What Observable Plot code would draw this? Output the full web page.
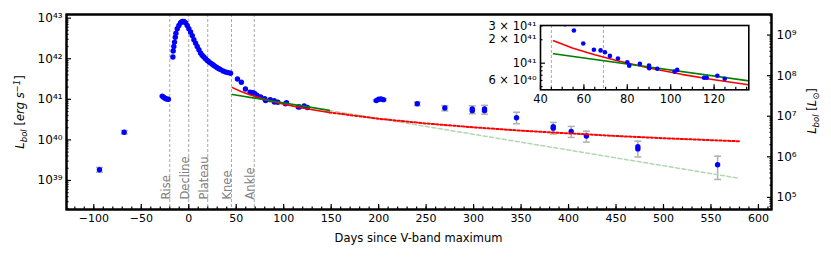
<!DOCTYPE html>
<html><head><meta charset="utf-8">
<script src="https://cdn.jsdelivr.net/npm/d3@7"></script>
<script src="https://cdn.jsdelivr.net/npm/@observablehq/plot@0.6"></script>
<style>
html,body{margin:0;padding:0;background:#fff;overflow:hidden;}
#wrap{position:relative;width:831px;height:257px;font-family:"DejaVu Sans",sans-serif;}
</style></head><body><div id="wrap"></div>
<script>
const LSUN = 3.828e33;

// Bolometric light curve (days since V max, erg/s)
const days = [-94, -68, -28, -26.5, -25, -23.5, -21.5,
  -16.7, -16.4, -15.7, -15.0, -14.2, -13.5, -12.1, -10.4, -8.6, -6.9, -5.1, -3.4, -1.6,
  0.1, 1.9, 3.7, 5.4, 7.2, 8.9, 10.7, 12.4, 14.1, 15.9, 17.7, 19.5, 21.2, 23.0, 24.8, 26.5, 28.2, 30.0, 31.8, 33.5, 36.1, 38.8, 41.4, 44.0,
  51.3, 55.4, 59.7, 64.6, 67.7, 69.7, 72.0, 75.7, 80.0, 80.9, 85.8, 90.0, 90.1, 93.8, 101.8, 103.0, 115.4, 116.6, 121.5, 124.9,
  197.5, 200, 202.5, 205, 240.7, 269.7, 298.6, 298.6, 311.5, 311.5, 345.2, 383.9, 383.9, 402.8, 418.8, 473, 473, 557];
const lum = [1.84e39, 1.55e40, 1.20e41, 1.12e41, 1.06e41, 1.02e41, 1.00e41,
  1.10e42, 1.55e42, 2.00e42, 2.57e42, 3.39e42, 4.27e42, 5.50e42, 6.60e42, 7.70e42, 8.30e42, 8.30e42, 7.70e42, 6.60e42,
  5.50e42, 4.57e42, 3.72e42, 2.95e42, 2.43e42, 2.00e42, 1.66e42, 1.38e42, 1.22e42, 1.10e42, 1.00e42, 9.10e41, 8.40e41, 7.80e41, 7.30e41, 6.80e41, 6.40e41, 6.00e41, 5.70e41, 5.40e41, 5.00e41, 4.70e41, 4.55e41, 4.40e41,
  3.18e41, 2.63e41, 1.79e41, 1.49e41, 1.46e41, 1.38e41, 1.24e41, 1.15e41, 1.03e41, 9.30e40, 9.80e40, 9.30e40, 8.60e40, 8.50e40, 7.80e40, 8.20e40, 6.50e40, 6.50e40, 6.90e40, 6.30e40,
  9.30e40, 1.00e41, 1.02e41, 9.80e40, 7.80e40, 6.10e40, 5.75e40, 5.25e40, 5.75e40, 5.25e40, 3.50e40, 2.10e40, 1.95e40, 1.62e40, 1.25e40, 6.80e39, 6.00e39, 2.44e39];

// Error bars
const errDays = [-94, -68, 197.5, 200, 202.5, 205, 240.7, 269.7, 298.6, 311.5, 345.2, 383.9, 402.8, 418.8, 473, 557];
const errLow  = [1.6e39, 1.4e40, 8.8e40, 9.5e40, 9.7e40, 9.3e40, 7.0e40, 5.2e40, 4.4e40, 4.3e40, 2.5e40, 1.4e40, 1.15e40, 8.8e39, 3.8e39, 1.06e39];
const errHigh = [2.1e39, 1.7e40, 9.8e40, 1.05e41, 1.07e41, 1.03e41, 8.6e40, 7.0e40, 6.9e40, 7.1e40, 4.8e40, 2.7e40, 2.15e40, 1.64e40, 9.3e39, 3.97e39];

// Fits
const redSolidDays = [46, 55, 65, 75, 90, 105, 120, 135, 148];
const redSolidLum  = [1.94e41, 1.56e41, 1.28e41, 1.08e41, 8.65e40, 7.19e40, 6.12e40, 5.32e40, 4.76e40];
const redDotDays = [148, 200, 250, 300, 350, 400, 450, 500, 550, 580];
const redDotLum  = [4.76e40, 3.32e40, 2.54e40, 2.04e40, 1.69e40, 1.45e40, 1.25e40, 1.10e40, 9.86e39, 9.25e39];
const greenSolidDays = [46, 148];
const greenSolidLum  = [1.32e41, 5.33e40];
const greenDashDays = [148, 580];
const greenDashLum  = [5.33e40, 1.13e39];

// Phases
const phaseDays  = [-20, 0, 20, 45, 69];
const phaseNames = ["Rise", "Decline", "Plateau", "Knee", "Ankle"];
const insetPhaseDays = [45, 69];

// Ticks
const xTicks = [-100, -50, 0, 50, 100, 150, 200, 250, 300, 350, 400, 450, 500, 550, 600];
const yExponents = [39, 40, 41, 42, 43];
const rightExponents = [5, 6, 7, 8, 9];
const insetXTicks = [40, 60, 80, 100, 120];
const insetYTicks = [6e40, 1e41, 2e41, 3e41];
const insetYLabels = ["6 × 10⁴⁰", "10⁴¹", "2 × 10⁴¹", "3 × 10⁴¹"];

const SUP = {"0":"⁰","1":"¹","2":"²","3":"³","4":"⁴","5":"⁵","6":"⁶","7":"⁷","8":"⁸","9":"⁹","-":"⁻"};
const sup = n => String(n).split("").map(c => SUP[c]).join("");
const zip = (a, b) => a.map((d, i) => ({d, L: b[i]}));
const minorLog = (lo, hi) => { const o = []; for (let e = lo; e <= hi; e++) for (let m = 2; m <= 9; m++) o.push(m * 10 ** e); return o; };
const minorLin = (lo, hi, s) => { const o = []; for (let v = lo; v <= hi + 1e-9; v += s) o.push(v); return o; };

const W = 831, H = 257;
const M = {marginLeft: 66, marginRight: 60, marginTop: 14, marginBottom: 48};
const xDom = [-128.75, 613.75];
const yDom = [10 ** 38.285, 10 ** 43.09];
const within = (v, [a, b]) => v >= a && v <= b;
const pts = zip(days, lum);
const errs = errDays.map((d, i) => ({d, lo: errLow[i], hi: errHigh[i]}));
const cap = {draw(ctx) { ctx.moveTo(-3.5, 0); ctx.lineTo(3.5, 0); }};
const errColor = "#b0b0b0";
const blank = () => "";
const fontStyle = "font-family:'DejaVu Sans',sans-serif;font-size:11px;overflow:visible;background:transparent;max-width:none;";

const main = Plot.plot({
  width: W, height: H, ...M,
  style: fontStyle,
  x: {domain: xDom},
  y: {type: "log", domain: yDom},
  marks: [
    Plot.ruleX(phaseDays, {x: d => d, stroke: "#a8a8a8", strokeWidth: 1, strokeDasharray: "3,2"}),
    Plot.text(phaseDays.map((d, i) => ({d, name: phaseNames[i]})), {x: "d", text: "name", frameAnchor: "bottom", dy: -10, rotate: -90, textAnchor: "start", lineAnchor: "bottom", fill: "#808080", fontSize: 11.5}),
    Plot.ruleX(errs, {x: "d", y1: "lo", y2: "hi", stroke: errColor, strokeWidth: 1.5}),
    Plot.dot(errs, {x: "d", y: "lo", symbol: cap, stroke: errColor, strokeWidth: 1.5}),
    Plot.dot(errs, {x: "d", y: "hi", symbol: cap, stroke: errColor, strokeWidth: 1.5}),
    Plot.dot(pts, {x: "d", y: "L", r: 2.7, fill: "#0000ff"}),
    Plot.line(zip(greenDashDays, greenDashLum), {x: "d", y: "L", stroke: "#b2d8b2", strokeWidth: 1.5, strokeDasharray: "4,2.5"}),
    Plot.line(zip(redDotDays, redDotLum), {x: "d", y: "L", stroke: "#ff0000", strokeWidth: 2, strokeDasharray: "2.3,2"}),
    Plot.line(zip(redSolidDays, redSolidLum), {x: "d", y: "L", stroke: "#ff0000", strokeWidth: 1.6}),
    Plot.line(zip(greenSolidDays, greenSolidLum), {x: "d", y: "L", stroke: "#008000", strokeWidth: 1.6}),
    // x axis
    Plot.axisX({ticks: minorLin(-120, 610, 10), tickSize: -2.5, tickFormat: blank, label: null, strokeWidth: 1.2}),
    Plot.axisX({ticks: xTicks, tickSize: -5, tickFormat: blank, label: null, strokeWidth: 1.2}),
    Plot.axisX({ticks: xTicks, tickSize: 0, tickPadding: 5, tickFormat: d => d < 0 ? "−" + Math.abs(d) : String(d), label: null, fontSize: 11, fill: "#000"}),
    // left y axis
    Plot.axisY({anchor: "left", ticks: minorLog(38, 42).filter(v => within(v, yDom)), tickSize: -2.5, tickFormat: blank, label: null, strokeWidth: 1.2}),
    Plot.axisY({anchor: "left", ticks: yExponents.map(e => 10 ** e), tickSize: -5, tickFormat: blank, label: null, strokeWidth: 1.2}),
    Plot.axisY({anchor: "left", ticks: yExponents.map(e => 10 ** e), tickSize: 0, tickPadding: 4, tickFormat: v => "10" + sup(Math.round(Math.log10(v))), label: null, fontSize: 12, fill: "#000"}),
    Plot.frame({stroke: "#000", strokeWidth: 2})
  ]
});

// Right-hand axis in solar luminosities (same frame, y domain divided by L_sun)
const yDomSun = yDom.map(v => v / LSUN);
const rightAxis = Plot.plot({
  width: W, height: H, ...M,
  style: fontStyle,
  y: {type: "log", domain: yDomSun},
  marks: [
    Plot.axisY({anchor: "right", ticks: minorLog(4, 9).filter(v => within(v, yDomSun)), tickSize: -2.5, tickFormat: blank, label: null, strokeWidth: 1.2}),
    Plot.axisY({anchor: "right", ticks: rightExponents.map(e => 10 ** e), tickSize: -5, tickFormat: blank, label: null, strokeWidth: 1.2}),
    Plot.axisY({anchor: "right", ticks: rightExponents.map(e => 10 ** e), tickSize: 0, tickPadding: 5, tickFormat: v => "10" + sup(Math.round(Math.log10(v))), label: null, fontSize: 12, fill: "#000", textAnchor: "start"}),
    Plot.frame({stroke: "#000", strokeWidth: 2})
  ]
});

const iL = 540, iR = 748.3, iT = 25, iB = 89.3;
const insetPts = pts.filter(p => p.d >= 40 && p.d <= 140);
const inset = Plot.plot({
  width: W, height: H,
  marginLeft: iL, marginRight: W - iR, marginTop: iT, marginBottom: H - iB,
  style: fontStyle,
  x: {domain: [40, 136]},
  y: {type: "log", domain: [4.55e40, 3.05e41]},
  marks: [
    Plot.frame({fill: "#fff"}),
    Plot.ruleX(insetPhaseDays, {x: d => d, stroke: "#a8a8a8", strokeWidth: 1, strokeDasharray: "3,2"}),
    Plot.line(zip(redSolidDays, redSolidLum), {x: "d", y: "L", stroke: "#ff0000", strokeWidth: 1.6, clip: true}),
    Plot.line(zip(greenSolidDays, greenSolidLum), {x: "d", y: "L", stroke: "#008000", strokeWidth: 1.6, clip: true}),
    Plot.dot(insetPts, {x: "d", y: "L", r: 2.3, fill: "#0000ff", clip: true}),
    Plot.axisX({ticks: minorLin(40, 135, 5), tickSize: -2.5, tickFormat: blank, label: null, strokeWidth: 1.2}),
    Plot.axisX({ticks: insetXTicks, tickSize: -5, tickFormat: blank, label: null, strokeWidth: 1.2}),
    Plot.axisX({ticks: insetXTicks, tickSize: 0, tickPadding: 5, tickFormat: String, label: null, fontSize: 11.5, fill: "#000"}),
    Plot.axisY({anchor: "left", ticks: [5e40, 6e40, 7e40, 8e40, 9e40, 2e41, 3e41], tickSize: -2.5, tickFormat: blank, label: null, strokeWidth: 1.2}),
    Plot.axisY({anchor: "left", ticks: [1e41], tickSize: -5, tickFormat: blank, label: null, strokeWidth: 1.2}),
    Plot.axisY({anchor: "left", ticks: insetYTicks, tickSize: 0, tickPadding: 4, tickFormat: v => insetYLabels[insetYTicks.indexOf(v)], label: null, fontSize: 11.5, fill: "#000"}),
    Plot.frame({stroke: "#000", strokeWidth: 1.6})
  ]
});

const wrap = document.getElementById("wrap");
wrap.appendChild(main);
for (const s of [inset, rightAxis]) {
  s.setAttribute("x", 0);
  s.setAttribute("y", 0);
  s.setAttribute("overflow", "visible");
  main.appendChild(s);
}

// Axis titles with italic / sub / superscripts
const svg = d3.select(main);
const t1 = svg.append("text").attr("transform", "translate(24,112) rotate(-90)").attr("text-anchor", "middle")
  .attr("font-size", 11.5).attr("fill", "#000");
t1.append("tspan").attr("font-style", "italic").text("L");
t1.append("tspan").attr("font-style", "italic").attr("font-size", 8.5).attr("dy", 2.5).text("bol");
t1.append("tspan").attr("dy", -2.5).text(" [");
t1.append("tspan").attr("font-style", "italic").text("erg s");
t1.append("tspan").attr("font-style", "italic").attr("font-size", 8.5).attr("dy", -4.5).text("−1");
t1.append("tspan").attr("dy", 4.5).text("]");

const t2 = svg.append("text").attr("transform", "translate(816,111) rotate(-90)").attr("text-anchor", "middle")
  .attr("font-size", 11.5).attr("fill", "#000");
t2.append("tspan").attr("font-style", "italic").text("L");
t2.append("tspan").attr("font-style", "italic").attr("font-size", 8.5).attr("dy", 2.5).text("bol");
t2.append("tspan").attr("dy", -2.5).text(" [");
t2.append("tspan").attr("font-style", "italic").text("L");
t2.append("tspan").attr("font-size", 8.5).attr("dy", 2.5).text("⊙");
t2.append("tspan").attr("dy", -2.5).text("]");

svg.append("text").attr("x", 418.5).attr("y", 242).attr("text-anchor", "middle").attr("font-size", 11.5).attr("fill", "#000")
  .text("Days since V-band maximum");
</script></body></html>
